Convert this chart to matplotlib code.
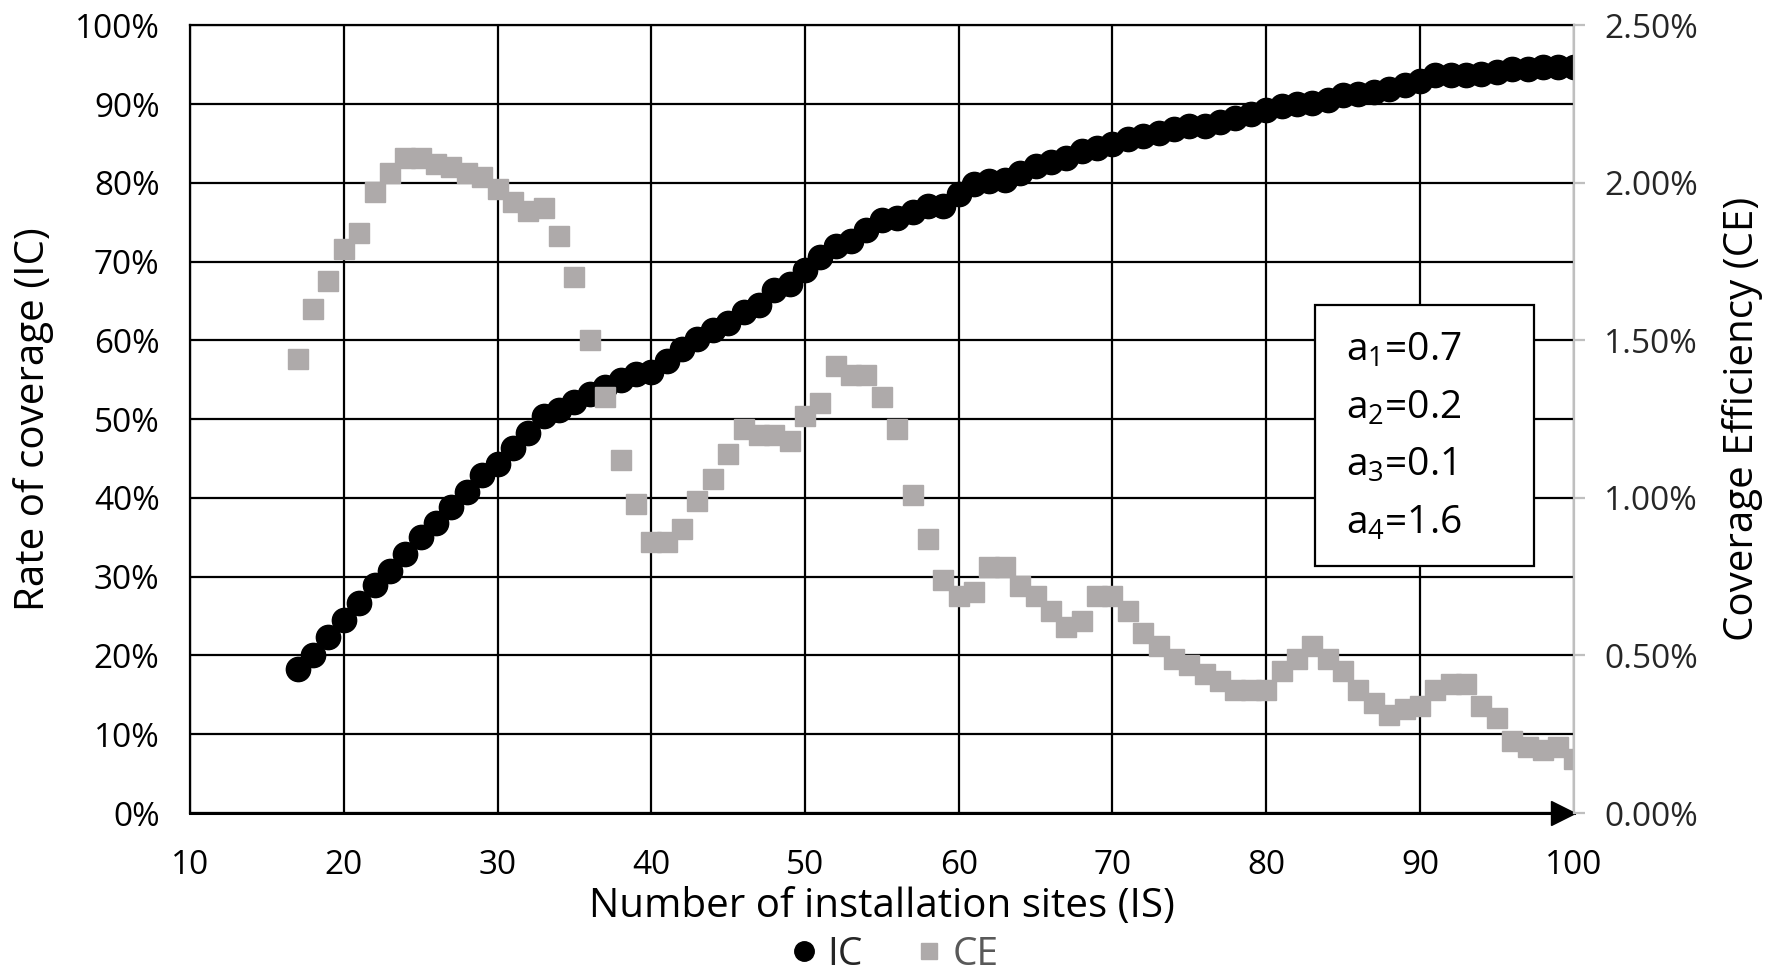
import matplotlib
matplotlib.use("Agg")
import matplotlib.pyplot as plt
from matplotlib.ticker import PercentFormatter, MultipleLocator
from matplotlib.patches import Rectangle
from matplotlib.lines import Line2D

plt.rcParams['font.family'] = ['Open Sans', 'DejaVu Sans']
plt.rcParams['mathtext.default'] = 'regular'

# number of installation sites
sites = list(range(17, 101))

# rate of coverage (IC), %
ic = [18.3, 20.1, 22.4, 24.5, 26.7, 28.9, 30.7, 32.9, 35.1, 36.8,
      38.8, 40.8, 42.9, 44.3, 46.3, 48.3, 50.4, 51.2, 52.2, 53.2,
      54.1, 55.0, 55.7, 56.0, 57.4, 58.9, 60.2, 61.3, 62.2, 63.6,
      64.5, 66.4, 67.2, 69.0, 70.6, 72.0, 72.6, 74.0, 75.3, 75.6,
      76.3, 77.1, 77.1, 78.6, 79.9, 80.2, 80.4, 81.2, 82.1, 82.7,
      83.1, 84.0, 84.4, 85.0, 85.6, 85.9, 86.3, 86.9, 87.2, 87.2,
      87.7, 88.2, 88.7, 89.2, 89.8, 90.0, 90.2, 90.5, 91.1, 91.3,
      91.5, 91.9, 92.4, 92.9, 93.7, 93.7, 93.7, 93.8, 94.1, 94.4,
      94.5, 94.7, 94.7, 94.7]

# coverage efficiency (CE), %
ce = [1.44, 1.60, 1.69, 1.79, 1.84, 1.97, 2.03, 2.08, 2.08, 2.06,
      2.05, 2.03, 2.02, 1.98, 1.94, 1.91, 1.92, 1.83, 1.70, 1.50,
      1.32, 1.12, 0.98, 0.86, 0.86, 0.90, 0.99, 1.06, 1.14, 1.22,
      1.20, 1.20, 1.18, 1.26, 1.30, 1.42, 1.39, 1.39, 1.32, 1.22,
      1.01, 0.87, 0.74, 0.69, 0.70, 0.78, 0.78, 0.72, 0.69, 0.64,
      0.59, 0.61, 0.69, 0.69, 0.64, 0.57, 0.53, 0.49, 0.47, 0.44,
      0.42, 0.39, 0.39, 0.39, 0.45, 0.49, 0.53, 0.49, 0.45, 0.39,
      0.35, 0.31, 0.33, 0.34, 0.39, 0.41, 0.41, 0.34, 0.30, 0.23,
      0.21, 0.20, 0.21, 0.17]

params = ['a$_1$=0.7', 'a$_2$=0.2', 'a$_3$=0.1', 'a$_4$=1.6']

ic_color = 'black'
ce_color = '#aeaaaa'

fig = plt.figure(figsize=(17.83, 9.76), dpi=100)
ax = fig.add_axes([0.1066, 0.167, 0.776, 0.807])
ax2 = ax.twinx()

ax.plot(sites, ic, linestyle='none', marker='o', ms=17.5, color=ic_color, label='IC')
ax2.plot(sites, ce, linestyle='none', marker='s', ms=14, color=ce_color, label='CE')

ax.set_xlim(10, 100)
ax.set_ylim(0, 100)
ax2.set_ylim(0, 2.5)
ax.xaxis.set_major_locator(MultipleLocator(10))
ax.yaxis.set_major_locator(MultipleLocator(10))
ax2.yaxis.set_major_locator(MultipleLocator(0.5))
ax.yaxis.set_major_formatter(PercentFormatter(decimals=0))
ax2.yaxis.set_major_formatter(PercentFormatter(decimals=2))

ax.grid(True, color='black', linewidth=1.6)
ax.set_axisbelow(True)

for s in ['left', 'top', 'bottom']:
    ax.spines[s].set_color('black')
    ax.spines[s].set_linewidth(1.6)
ax.spines['bottom'].set_linewidth(2.2)
ax.spines['right'].set_visible(False)
for s in ['left', 'top', 'bottom']:
    ax2.spines[s].set_visible(False)
ax2.spines['right'].set_color('#bfbfbf')
ax2.spines['right'].set_linewidth(1.6)

ax.tick_params(axis='x', length=0, pad=26, labelsize=24)
ax.tick_params(axis='y', length=0, pad=22, labelsize=24)
ax2.tick_params(axis='y', length=8, width=1.6, color='#bfbfbf', pad=14,
                labelsize=24, labelcolor='#262626')

# arrow at the end of the x axis
ax.plot([0.992], [0], marker='>', ms=17, color='black', clip_on=False,
        transform=ax.transAxes, zorder=6)

ax.set_xlabel('Number of installation sites (IS)', fontsize=29, va='center')
ax.xaxis.set_label_coords(0.5, -0.119)
ax.set_ylabel('Rate of coverage (IC)', fontsize=29, va='center')
ax.yaxis.set_label_coords(-0.113, 0.5)
ax2.set_ylabel('Coverage Efficiency (CE)', fontsize=29, va='center', rotation=90)
ax2.yaxis.set_label_coords(1.122, 0.5)

# parameter box
box = Rectangle((83.2, 31.3), 14.2, 33.2, facecolor='white', edgecolor='black',
                linewidth=1.6, zorder=5)
ax.add_patch(box)
for i, t in enumerate(params):
    ax.text(85.2, 58.7 - i * 7.3, t, fontsize=28, va='center', ha='left', zorder=6)

handles = [Line2D([], [], linestyle='none', marker='o', ms=14, color=ic_color),
           Line2D([], [], linestyle='none', marker='s', ms=12, color=ce_color)]
leg = fig.legend(handles, ['IC', 'CE'], loc='center', bbox_to_anchor=(0.5, 0.022),
                 ncol=2, frameon=False, fontsize=28, handletextpad=0.1,
                 columnspacing=1.2, handlelength=1.0)
leg.get_texts()[0].set_color('#262626')
leg.get_texts()[1].set_color('#595959')

fig.savefig('out.png', dpi=100)
